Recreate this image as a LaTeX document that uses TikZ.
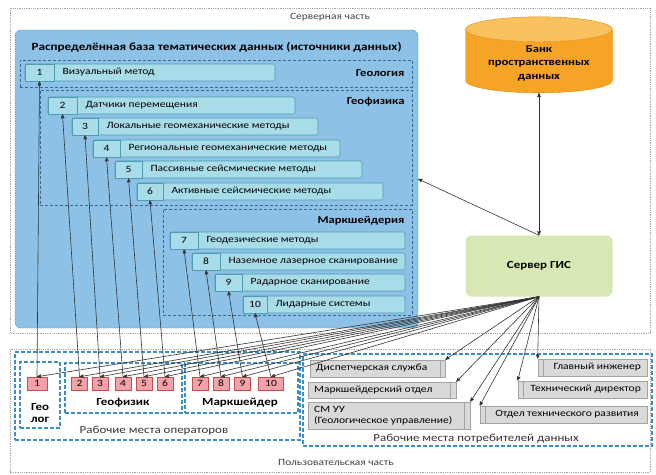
\documentclass[tikz,border=0pt]{standalone}
\usepackage{fontspec}
\setmainfont{Carlito}[FakeStretch=1.2]
\usetikzlibrary{%
  arrows,%
  shapes.geometric,% wg. cylinder
  positioning%
}

\definecolor{dbblue}{HTML}{8DC2E6}
\definecolor{dbedge}{HTML}{4F94C8}
\definecolor{rowcyan}{HTML}{A8DCE8}
\definecolor{rowedge}{HTML}{4E9CB2}
\definecolor{grpblue}{HTML}{34689A}
\definecolor{opblue}{HTML}{3D8FC2}
\definecolor{pinkbox}{HTML}{F2A2A8}
\definecolor{pinkedge}{HTML}{C0504D}
\definecolor{usrgray}{HTML}{D9D9D9}
\definecolor{usredge}{HTML}{A3A3A3}
\definecolor{bankor}{HTML}{F6A425}
\definecolor{banktop}{HTML}{F9C25E}
\definecolor{bankedge}{HTML}{E4860A}
\definecolor{srvgreen}{HTML}{D7E8B5}

\begin{document}
\begin{tikzpicture}[
  x=1pt, y=-1pt,
  font=\fontsize{9.6}{11}\selectfont,
  >=stealth',
  frame/.style={draw=gray!70, densely dotted, line width=0.8pt},
  parttxt/.style={text=black!75, font=\fontsize{9.5}{11}\selectfont},
  dbbox/.style={draw=dbedge, fill=dbblue, rounded corners=6pt, inner sep=0pt},
  grp/.style={draw=grpblue, densely dashed, line width=0.7pt, inner sep=0pt},
  grptxt/.style={font=\bfseries\fontsize{10.5}{12}\selectfont},
  rowbox/.style={draw=rowedge, fill=rowcyan, rounded corners=1.5pt, line width=0.6pt},
  numcell/.style={draw=rowedge, fill=rowcyan, line width=0.6pt, inner sep=0pt, minimum height=17},
  opgrp/.style={draw=opblue, dash pattern=on 4pt off 2pt, line width=1.1pt, inner sep=0pt},
  opbox/.style={draw=pinkedge, fill=pinkbox, inner sep=0pt, minimum height=13, line width=0.5pt},
  optxt/.style={text=black!80, font=\fontsize{10.8}{12}\selectfont},
  boldtxt/.style={font=\bfseries\fontsize{10.8}{12}\selectfont},
  usrbox/.style={draw=usredge, fill=usrgray, inner sep=0pt, line width=0.6pt},
  stripe/.style={draw=usredge, line width=0.6pt},
  conn/.style={draw=black!80, line width=0.6pt},
]
\useasboundingbox (0,0) rectangle (656,474);

% server part and user part
\draw[frame] (10,8) rectangle (650,333);
\node[parttxt] (srvpart) at (330,17) {Серверная часть};
\draw[frame] (10,349) rectangle (650,472);
\node[parttxt] (usrpart) at (336,462) {Пользовательская часть};

% distributed database
\node[dbbox, minimum width=403, minimum height=298] (bdb) at (216.5,179) {};
\node[anchor=west, font=\bfseries\fontsize{11}{13}\selectfont] (bdbtxt) at (28,47)
  {Распределённая база тематических данных (источники данных)};

\node[grp, minimum width=392, minimum height=27] (geol) at (216,73.5) {};
\node[grptxt, anchor=east] (geoltxt) at (408,73) {Геология};
\node[grp, minimum width=372, minimum height=115] (geof) at (226,147.5) {};
\node[grptxt, anchor=east] (geoftxt) at (408,102) {Геофизика};
\node[grp, minimum width=249, minimum height=106] (marsh) at (287.5,262) {};
\node[grptxt, anchor=east] (marshtxt) at (408,221) {Маркшейдерия};

\foreach \n/\xa/\xb/\ya/\xc/\txt in {%
  1/25/275/64/54/Визуальный метод,
  2/48/295/97/77/Датчики перемещения,
  3/72/318/118/98/Локальные геомеханические методы,
  4/93/340/140/120/Региональные геомеханические методы,
  5/115/362/161/142/Пассивные сейсмические методы,
  6/137/383/183/163/Активные сейсмические методы,
  7/170/405/232/198/Геодезические методы,
  8/192/405/253/220/Наземное лазерное сканирование,
  9/215/405/274/242/Радарное сканирование,
  10/243/405/296/267/Лидарные системы} {
  \draw[rowbox] (\xa,\ya) rectangle (\xb,\ya+17);
  \node[numcell, minimum width=\xc-\xa] (num\n) at ({(\xa+\xc)/2},\ya+8.5) {\n};
  \node[anchor=west] (txt\n) at (\xc+5,\ya+8.5) {\txt};
}

% bank and GIS server
\node[cylinder, shape border rotate=90, aspect=0.23, draw=bankedge,
  cylinder uses custom fill, cylinder body fill=bankor, cylinder end fill=banktop,
  minimum width=147, minimum height=69, align=center,
  font=\bfseries\fontsize{10.5}{13.5}\selectfont] (bank) at (539,63)
  {Банк\\пространственных\\данных};
\node[fill=srvgreen, rounded corners=6pt, minimum width=147, minimum height=61,
  font=\bfseries\fontsize{10.8}{12}\selectfont] (srv) at (539,266) {Сервер ГИС};

% operators
\node[opgrp, minimum width=285, minimum height=88] (ops) at (157.5,396) {};
\node[optxt] (opstxt) at (154,431) {Рабочие места операторов};
\node[opgrp, minimum width=40, minimum height=66] (geolog) at (40,395) {};
\node[boldtxt, align=center] (geologtxt) at (40,413) {Гео\\лог};
\node[opgrp, minimum width=117, minimum height=50] (geofiz) at (123.5,388) {};
\node[boldtxt] (geofiztxt) at (123,403) {Геофизик};
\node[opgrp, minimum width=113, minimum height=50] (marksh) at (241.5,388) {};
\node[boldtxt] (markshtxt) at (240,403) {Маркшейдер};

\foreach \i/\x/\w in {1/37/20, 2/79.5/16, 3/100/16, 4/123/16, 5/144/16,
  6/165/16, 7/200/16, 8/221/16, 9/242.5/16, 10/271/25} {
  \node[opbox, minimum width=\w] (pink\i) at (\x,383.5) {\i};
}

% consumers
\node[opgrp, minimum width=349, minimum height=92] (cons) at (477.5,400) {};
\node[optxt] (constxt) at (476,439) {Рабочие места потребителей данных};

\node[usrbox, minimum width=135, minimum height=17] (disp) at (377.5,368.5) {};
\node[anchor=west] (disptxt) at ([xshift=3pt]disp.west) {Диспетчерская служба};
\node[usrbox, minimum width=148, minimum height=16] (marks) at (382,390) {};
\node[anchor=west] (markstxt) at ([xshift=3pt]marks.west) {Маркшейдерский отдел};
\node[usrbox, minimum width=162, minimum height=27] (smuu) at (389,415.5) {};
\node[anchor=west, align=left] (smuutxt) at ([xshift=3pt]smuu.west)
  {СМ УУ\\(Геологическое управление)};
\node[usrbox, minimum width=167, minimum height=17] (otr) at (563.5,414.5) {};
\node[anchor=east] (otrtxt) at ([xshift=-5pt]otr.east) {Отдел технического развития};
\node[usrbox, minimum width=129, minimum height=17] (tdir) at (582.5,389.5) {};
\node[anchor=east] (tdirtxt) at ([xshift=-3pt]tdir.east) {Технический директор};
\node[usrbox, minimum width=109, minimum height=17] (gling) at (592.5,367.5) {};
\node[anchor=east] (glingtxt) at ([xshift=-3pt]gling.east) {Главный инженер};

\foreach \b/\s/\a in {disp/-5/east, marks/-6/east, smuu/-6/east,
  otr/6/west, tdir/6/west, gling/6/west} {
  \draw[stripe] ([xshift=\s pt]\b.north \a) -- ([xshift=\s pt]\b.south \a);
}

% connectors
\draw[conn, <->] (bank.south) -- (srv.north);
\draw[conn, ->] (srv.north) -- (bdb.east);
\foreach \i in {1,...,10} {
  \draw[conn, ->] (pink\i.north) -- (num\i.south);
  \draw[conn, ->] (srv.south) -- (pink\i.north);
}
\foreach \b/\a in {disp/north east, marks/north east, smuu/north east,
  otr/north west, tdir/north west, gling/north west} {
  \draw[conn, ->] (srv.south) -- (\b.\a);
}

\end{tikzpicture}
\end{document}
